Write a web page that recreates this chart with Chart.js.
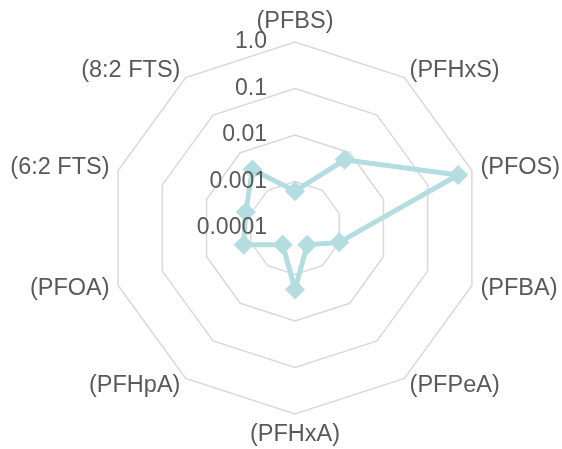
<!DOCTYPE html>
<html>
<head>
<meta charset="utf-8">
<script src="https://cdn.jsdelivr.net/npm/chart.js@4"></script>
<style>
html,body{margin:0;padding:0;background:#fff;}
#c{display:block;}
</style>
</head>
<body>
<canvas id="c" width="562" height="449"></canvas>
<script>
const categories = ['(PFBS)','(PFHxS)','(PFOS)','(PFBA)','(PFPeA)','(PFHxA)','(PFHpA)','(PFOA)','(6:2 FTS)','(8:2 FTS)'];
const values = [0.00062, 0.0065, 0.49, 0.001, 0.00028, 0.0021, 0.00028, 0.00145, 0.0013, 0.0036];
const tickValues = [1, 0.1, 0.01, 0.001, 0.0001];
const tickLabels = ['1.0', '0.1', '0.01', '0.001', '0.0001'];

const FONT = "'Liberation Sans', Arial, sans-serif";
const TEXT_COLOR = '#595959';

// Category labels around the radar, placed through the scale's own geometry
const pointLabelPlugin = {
  id: 'catLabels',
  afterDraw(chart) {
    const s = chart.scales.r;
    const ctx = chart.ctx;
    const n = s._pointLabels.length;
    ctx.save();
    ctx.font = '23.5px ' + FONT;
    ctx.fillStyle = TEXT_COLOR;
    for (let i = 0; i < n; i++) {
      const p = s.getPointPosition(i, s.drawingArea + 9);
      const deg = Math.round(i * 360 / n) % 360;
      if (deg === 0) { ctx.textAlign = 'center'; ctx.textBaseline = 'bottom'; }
      else if (deg === 180) { ctx.textAlign = 'center'; ctx.textBaseline = 'top'; }
      else if (deg < 180) { ctx.textAlign = 'left'; ctx.textBaseline = 'middle'; }
      else { ctx.textAlign = 'right'; ctx.textBaseline = 'middle'; }
      ctx.fillText(s._pointLabels[i], p.x, p.y);
    }
    ctx.restore();
  }
};

// Log-style tick labels for each ring
const tickPlugin = {
  id: 'logTicks',
  afterDatasetsDraw(chart) {
    const s = chart.scales.r;
    const ctx = chart.ctx;
    ctx.save();
    ctx.font = '23px ' + FONT;
    ctx.fillStyle = TEXT_COLOR;
    ctx.textAlign = 'right';
    ctx.textBaseline = 'middle';
    tickValues.forEach((v, i) => {
      const d = s.getDistanceFromCenterForValue(Math.log10(v));
      ctx.fillText(tickLabels[i], s.xCenter - 28, s.yCenter - d);
    });
    ctx.restore();
  }
};

new Chart(document.getElementById('c'), {
  type: 'radar',
  data: {
    labels: categories,
    datasets: [{
      data: values.map(v => Math.log10(v)),
      borderColor: '#b3dde0',
      backgroundColor: 'rgba(0,0,0,0)',
      borderWidth: 5,
      pointStyle: 'rectRot',
      pointRadius: 10,
      pointBackgroundColor: '#b3dde0',
      pointBorderColor: '#b3dde0',
      pointBorderWidth: 0,
      fill: false,
      tension: 0
    }]
  },
  options: {
    responsive: false,
    animation: false,
    layout: { padding: { top: 42, bottom: 35, left: 28, right: 0 } },
    plugins: { legend: { display: false }, tooltip: { enabled: false } },
    scales: {
      r: {
        min: -4,
        max: 0,
        ticks: { stepSize: 1, display: false },
        grid: { color: '#d9d9d9', lineWidth: 1.5 },
        angleLines: { display: false },
        pointLabels: { display: false }
      }
    }
  },
  plugins: [tickPlugin, pointLabelPlugin]
});
</script>
</body>
</html>
